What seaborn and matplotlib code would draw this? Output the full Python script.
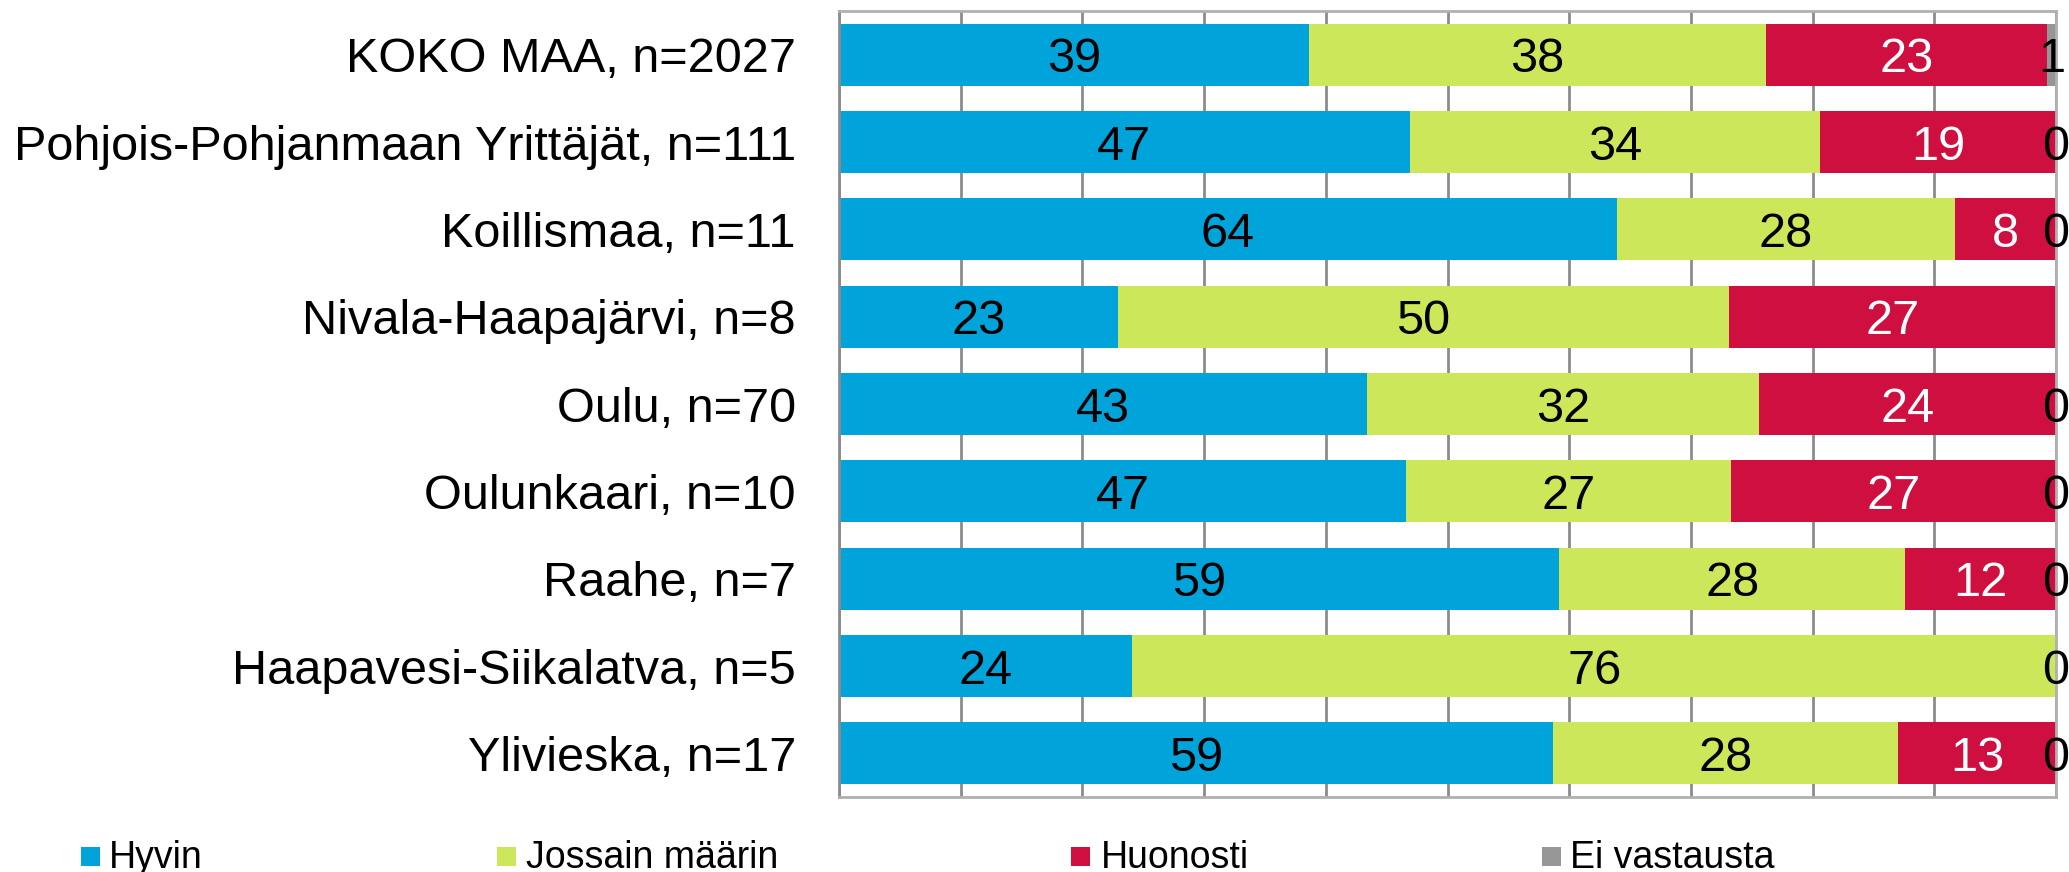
import matplotlib
matplotlib.use("Agg")
import matplotlib.pyplot as plt
from matplotlib.patches import Rectangle
import numpy as np
import pandas as pd
import seaborn as sns

# ---- data ----
categories = [
    "KOKO MAA, n=2027",
    "Pohjois-Pohjanmaan Yrittäjät, n=111",
    "Koillismaa, n=11",
    "Nivala-Haapajärvi, n=8",
    "Oulu, n=70",
    "Oulunkaari, n=10",
    "Raahe, n=7",
    "Haapavesi-Siikalatva, n=5",
    "Ylivieska, n=17",
]
series_names = ["Hyvin", "Jossain määrin", "Huonosti", "Ei vastausta"]
hyvin = [38.6, 46.9, 63.9, 22.9, 43.4, 46.6, 59.2, 24.1, 58.7]
jossain = [37.6, 33.7, 27.8, 50.2, 32.2, 26.7, 28.4, 75.9, 28.3]
huonosti = [23.1, 19.4, 8.3, 26.9, 24.4, 26.7, 12.4, 0.0, 13.0]
ei_vastausta = [0.7, 0.0, 0.0, 0.0, 0.0, 0.0, 0.0, 0.0, 0.0]

hyvin_labels = ["39", "47", "64", "23", "43", "47", "59", "24", "59"]
jossain_labels = ["38", "34", "28", "50", "32", "27", "28", "76", "28"]
huonosti_labels = ["23", "19", "8", "27", "24", "27", "12", "", "13"]
ei_labels = ["1", "0", "0", "", "0", "0", "0", "0", "0"]

colors = ["#00A3DA", "#CCE75A", "#CF0F3F", "#969696"]
label_colors = ["black", "black", "white", "black"]

# ---- style ----
sns.set_style("white")
plt.rcParams["font.family"] = ["Liberation Sans", "DejaVu Sans"]

W, H = 2069, 872
fig = plt.figure(figsize=(W / 100, H / 100), dpi=100)
ax = fig.add_axes([839 / W, 1 - 797 / H, (2056 - 839) / W, (797 - 11) / H])

series = [hyvin, jossain, huonosti, ei_vastausta]
labels = [hyvin_labels, jossain_labels, huonosti_labels, ei_labels]
cums = np.cumsum(np.array(series), axis=0)

# draw cumulative bars from the largest to smallest (overlay gives stacking)
for k in range(len(series) - 1, -1, -1):
    df = pd.DataFrame({"category": categories, "value": cums[k]})
    sns.barplot(data=df, x="value", y="category", orient="h", color=colors[k],
                saturation=1, width=0.71, linewidth=0, ax=ax, order=categories)

# segment labels
for k in range(len(series)):
    starts = cums[k] - np.array(series[k])
    for i, cat in enumerate(categories):
        txt = labels[k][i]
        if not txt:
            continue
        cx = starts[i] + series[k][i] / 2
        ax.text(cx, i, txt, ha="center", va="center_baseline", fontsize=35,
                color=label_colors[k], clip_on=False)

ax.set_xlim(0, 100)
ax.set_ylim(len(categories) - 0.5, -0.5)
ax.set_xticks(np.arange(0, 101, 10))
ax.set_xticklabels([])
ax.tick_params(axis="x", length=0)
ax.tick_params(axis="y", length=0, pad=31, labelsize=35, labelcolor="black")
ax.set_xlabel("")
ax.set_ylabel("")
ax.set_axisbelow(True)
ax.grid(axis="x", color="#8c8c8c", linewidth=2)
ax.grid(axis="y", visible=False)
for side in ["top", "right", "bottom"]:
    ax.spines[side].set_visible(True)
    ax.spines[side].set_color("#b0b0b0")
    ax.spines[side].set_linewidth(2)
ax.spines["left"].set_color("#8c8c8c")
ax.spines["left"].set_linewidth(2)

# legend (manual, matching Excel layout)
legend_marker_x = [81, 497, 1071, 1542]
legend_text_x = [109, 526, 1101, 1570]
for k, name in enumerate(series_names):
    fig.add_artist(Rectangle((legend_marker_x[k] / W, 1 - 866 / H), 19 / W, 19 / H,
                             transform=fig.transFigure, facecolor=colors[k],
                             edgecolor="none"))
    fig.text(legend_text_x[k] / W, 1 - 868 / H, name, fontsize=27,
             ha="left", va="baseline", color="black")

fig.savefig("out.png", dpi=100)
